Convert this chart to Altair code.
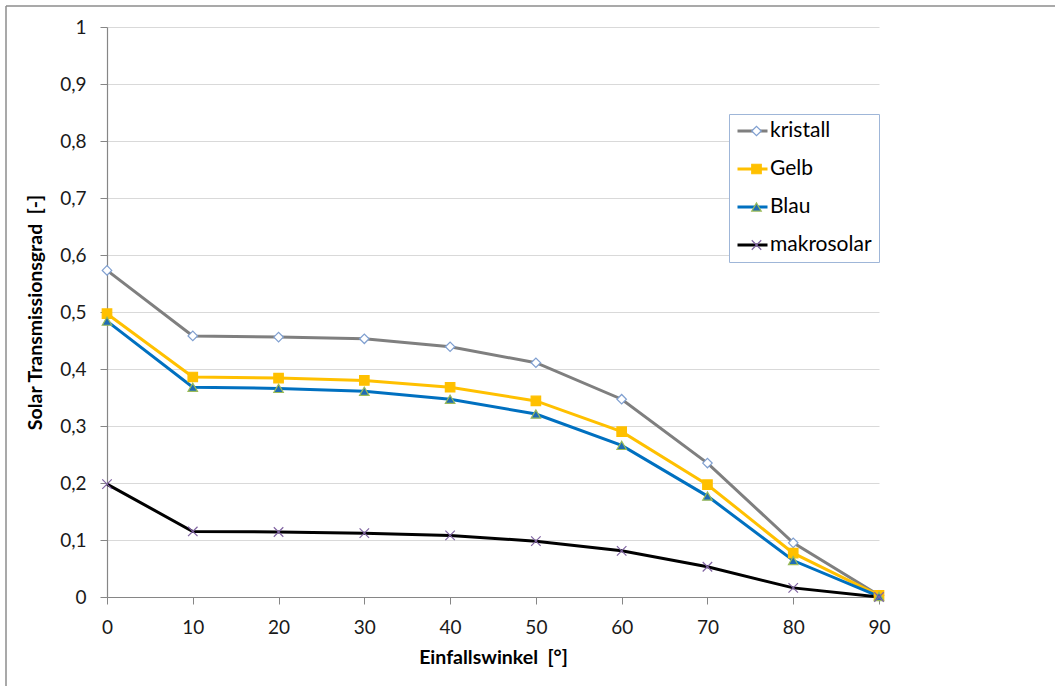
import altair as alt
import pandas as pd

# Incidence angle in degrees
angles = [0, 10, 20, 30, 40, 50, 60, 70, 80, 90]

# Solar transmittance per glass type
kristall = [0.573, 0.458, 0.456, 0.453, 0.439, 0.411, 0.347, 0.235, 0.095, 0.003]
gelb = [0.497, 0.386, 0.384, 0.380, 0.368, 0.344, 0.290, 0.197, 0.077, 0.003]
blau = [0.484, 0.368, 0.366, 0.361, 0.347, 0.321, 0.266, 0.177, 0.064, 0.001]
makrosolar = [0.198, 0.115, 0.114, 0.112, 0.108, 0.098, 0.081, 0.053, 0.016, 0.0]

series_names = ["kristall", "Gelb", "Blau", "makrosolar"]
y_ticks = [i / 10 for i in range(11)]

line_colors = ["#7F7F7F", "#FFC000", "#0070C0", "#000000"]
marker_fill = ["#FFFFFF", "#FFC000", "#1F6CB4", "#8064A2"]
marker_stroke = ["#7F9FD0", "#FFC000", "#9BBB59", "#8064A2"]
marker_shapes = ["diamond", "square", "triangle-up", "M-1,-1L1,1M-1,1L1,-1"]

rows = []
for name, vals in zip(series_names, [kristall, gelb, blau, makrosolar]):
    for a, v in zip(angles, vals):
        rows.append({"angle": a, "value": v, "series": name, "marker": name})
df = pd.DataFrame(rows)

FONT = "Lato"
TEXT = "#1A1A1A"
AXIS_GRAY = "#868686"
NB = "\u00a0"

x_enc = alt.X(
    "angle:Q",
    scale=alt.Scale(domain=[0, 90], nice=False),
    axis=alt.Axis(
        values=angles,
        title=f"Einfallswinkel{NB}{NB}[°]",
        grid=False,
        tickSize=7,
        labelPadding=14,
        labelFlush=False,
        titlePadding=11,
    ),
)
y_enc = alt.Y(
    "value:Q",
    scale=alt.Scale(domain=[0, 1], nice=False),
    axis=alt.Axis(
        values=y_ticks,
        labelExpr="replace(format(datum.value, '.1~f'), '.', ',')",
        title=f"Solar Transmissionsgrad{NB}{NB}[-]",
        grid=True,
        gridColor="#D9D9D9",
        tickSize=7,
        labelPadding=14,
        labelFlush=False,
        titlePadding=14,
    ),
)

# Two legends stacked on the same spot: line strokes with labels,
# and the markers drawn on top of them
legend_common = dict(
    orient="none",
    legendX=622,
    legendY=87,
    padding=7,
    clipHeight=20,
    rowPadding=17,
    title=None,
    labelFont=FONT,
    labelFontSize=21,
    labelColor="#000000",
    labelOffset=1,
)

marker_legend = alt.Legend(
    symbolSize=90,
    symbolOffset=10,
    symbolStrokeWidth=1.2,
    labelExpr="''",
    **legend_common,
)

base = alt.Chart(df)

lines = base.mark_line(strokeWidth=3).encode(
    x=x_enc,
    y=y_enc,
    color=alt.Color(
        "series:N",
        sort=series_names,
        scale=alt.Scale(range=line_colors),
        legend=alt.Legend(
            symbolType="stroke",
            symbolSize=900,
            symbolStrokeWidth=3,
            strokeColor="#9FB6D8",
            fillColor="#FFFFFF",
            **legend_common,
        ),
    ),
)

points = base.mark_point(filled=True, size=90, strokeWidth=1.2, opacity=1).encode(
    x=x_enc,
    y=y_enc,
    shape=alt.Shape(
        "marker:N",
        scale=alt.Scale(domain=series_names, range=marker_shapes),
        legend=marker_legend,
    ),
    fill=alt.Fill(
        "marker:N",
        scale=alt.Scale(domain=series_names, range=marker_fill),
        legend=marker_legend,
    ),
    stroke=alt.Stroke(
        "marker:N",
        scale=alt.Scale(domain=series_names, range=marker_stroke),
        legend=marker_legend,
    ),
)

# Outer frame around the whole figure (top and left edges)
frame_data = alt.Chart(pd.DataFrame({"k": [0]}))
frame_top = frame_data.mark_rule(color="#8C8C8C", strokeWidth=1.5).encode(
    x=alt.value(-101), x2=alt.value(960), y=alt.value(-21)
)
frame_left = frame_data.mark_rule(color="#8C8C8C", strokeWidth=1.5).encode(
    x=alt.value(-101), y=alt.value(-21), y2=alt.value(670)
)

chart = (
    alt.layer(frame_top, frame_left, lines, points)
    .properties(
        width=772,
        height=570,
        autosize=alt.AutoSizeParams(type="none"),
        padding={"left": 107, "top": 27, "right": 176, "bottom": 89},
        background="#FFFFFF",
    )
    .configure_view(stroke=None)
    .configure_axis(
        labelFont=FONT,
        labelFontSize=19,
        labelColor=TEXT,
        titleFont=FONT,
        titleFontSize=19.5,
        titleFontWeight="bold",
        titleColor="#000000",
        domainColor=AXIS_GRAY,
        tickColor=AXIS_GRAY,
        domainWidth=1.2,
    )
)

chart.save("out.html", embed_options={"renderer": "svg", "actions": False})
